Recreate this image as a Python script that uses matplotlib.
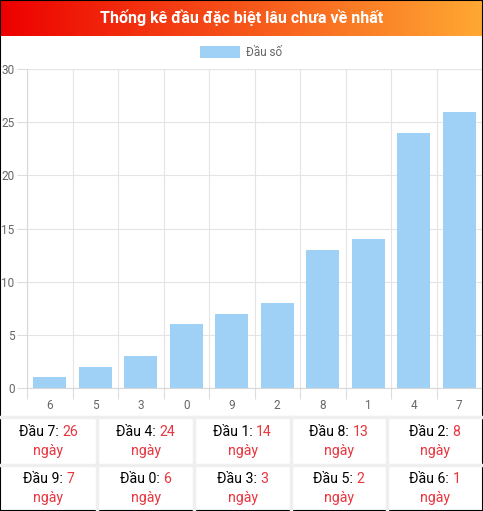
import numpy as np
import matplotlib
matplotlib.use('Agg')
from matplotlib import pyplot as plt
from matplotlib.patches import Rectangle

plt.rcParams['font.family'] = ['Roboto', 'DejaVu Sans']

# data
heads = ['6', '5', '3', '0', '9', '2', '8', '1', '4', '7']
days = [1, 2, 3, 6, 7, 8, 13, 14, 24, 26]
title = 'Thống kê đầu đặc biệt lâu chưa về nhất'
legend_label = 'Đầu số'

W, H = 483, 511
fig = plt.figure(figsize=(W / 100, H / 100), dpi=100)

def fx(px):
    return px / W

def fy(py):
    return 1 - py / H

# header gradient
hax = fig.add_axes([0, fy(36), 1, 36 / H])
grad = np.linspace(0, 1, 256).reshape(1, -1)
c0 = np.array([0.93, 0.0, 0.0])
c1 = np.array([1.0, 0.66, 0.20])
img = c0[None, None, :] * (1 - grad[..., None]) + c1[None, None, :] * grad[..., None]
hax.imshow(img, aspect='auto', extent=[0, 1, 0, 1])
hax.axis('off')
hax.text(0.5, 0.5, title, color='white', fontsize=11.5, fontweight='bold',
         ha='center', va='center', transform=hax.transAxes)

# bar chart
ax = fig.add_axes([fx(27), fy(388), fx(482 - 27), (388 - 69) / H])
x = np.arange(len(heads))
ax.bar(x, days, width=0.72, color='#9fd0f5', label=legend_label, zorder=2)
ax.set_xlim(-0.5, len(heads) - 0.5)
ax.set_ylim(0, 30)
ax.set_yticks(np.arange(0, 31, 5))
ax.set_xticks(np.arange(-0.5, len(heads), 1.0))
ax.set_xticklabels([])
ax.set_xticks(x, minor=True)
ax.set_xticklabels(heads, minor=True)
ax.tick_params(axis='x', which='minor', length=0, pad=8, labelsize=8.5, labelcolor='#666666')
ax.tick_params(axis='x', which='major', length=8, color='#dddddd')
ax.tick_params(axis='y', length=7, color='#dddddd', labelsize=8.5, labelcolor='#666666', pad=2)
ax.grid(True, which='major', color='#e4e4e4', linewidth=0.8, zorder=0)
for s in ['top', 'right']:
    ax.spines[s].set_visible(False)
for s in ['left', 'bottom']:
    ax.spines[s].set_color('#d8d8d8')

# legend
fig.patches.append(Rectangle((fx(200), fy(58)), fx(40), 12 / H, transform=fig.transFigure,
                             facecolor='#9fd0f5', edgecolor='none'))
fig.text(fx(246), fy(52), legend_label, fontsize=8.5, color='#666666', va='center', ha='left')

# table (sorted by days, most first)
order = np.argsort(days)[::-1]
col_edges = [0, 97, 194, 291, 387, 483]
row_tops = [418, 465]
fig.canvas.draw()
rend = fig.canvas.get_renderer()
for k, idx in enumerate(order):
    r, c = divmod(k, 5)
    cx = (col_edges[c] + col_edges[c + 1]) / 2
    y1 = row_tops[r] + 14
    y2 = row_tops[r] + 33
    t1 = fig.text(fx(cx), fy(y1), 'Đầu %s: ' % heads[idx], fontsize=10.2, color='black',
                  ha='right', va='center')
    num = fig.text(fx(cx), fy(y1), str(days[idx]), fontsize=10.2, color='#e8363f',
                   ha='left', va='center')
    fig.text(fx(cx), fy(y2), 'ngày', fontsize=10.2, color='#e8363f', ha='center', va='center')
    # centre the pair in the cell
    w1 = t1.get_window_extent(rend).width
    w2 = num.get_window_extent(rend).width
    shift = (w1 - w2) / 2
    t1.set_x(fx(cx + shift))
    num.set_x(fx(cx + shift))

line_c = '#efefef'
for xe in col_edges[1:-1]:
    fig.add_artist(plt.Line2D([fx(xe), fx(xe)], [fy(417), fy(511)], color=line_c,
                              linewidth=2.5, transform=fig.transFigure))
for ye in [417, 465]:
    fig.add_artist(plt.Line2D([0, 1], [fy(ye), fy(ye)], color=line_c,
                              linewidth=2.5, transform=fig.transFigure))

# outer border
fig.add_artist(Rectangle((0, 0), 1, 1, transform=fig.transFigure, fill=False,
                         edgecolor='black', linewidth=1.5))

fig.savefig('out.png', dpi=100)
plt.close()
